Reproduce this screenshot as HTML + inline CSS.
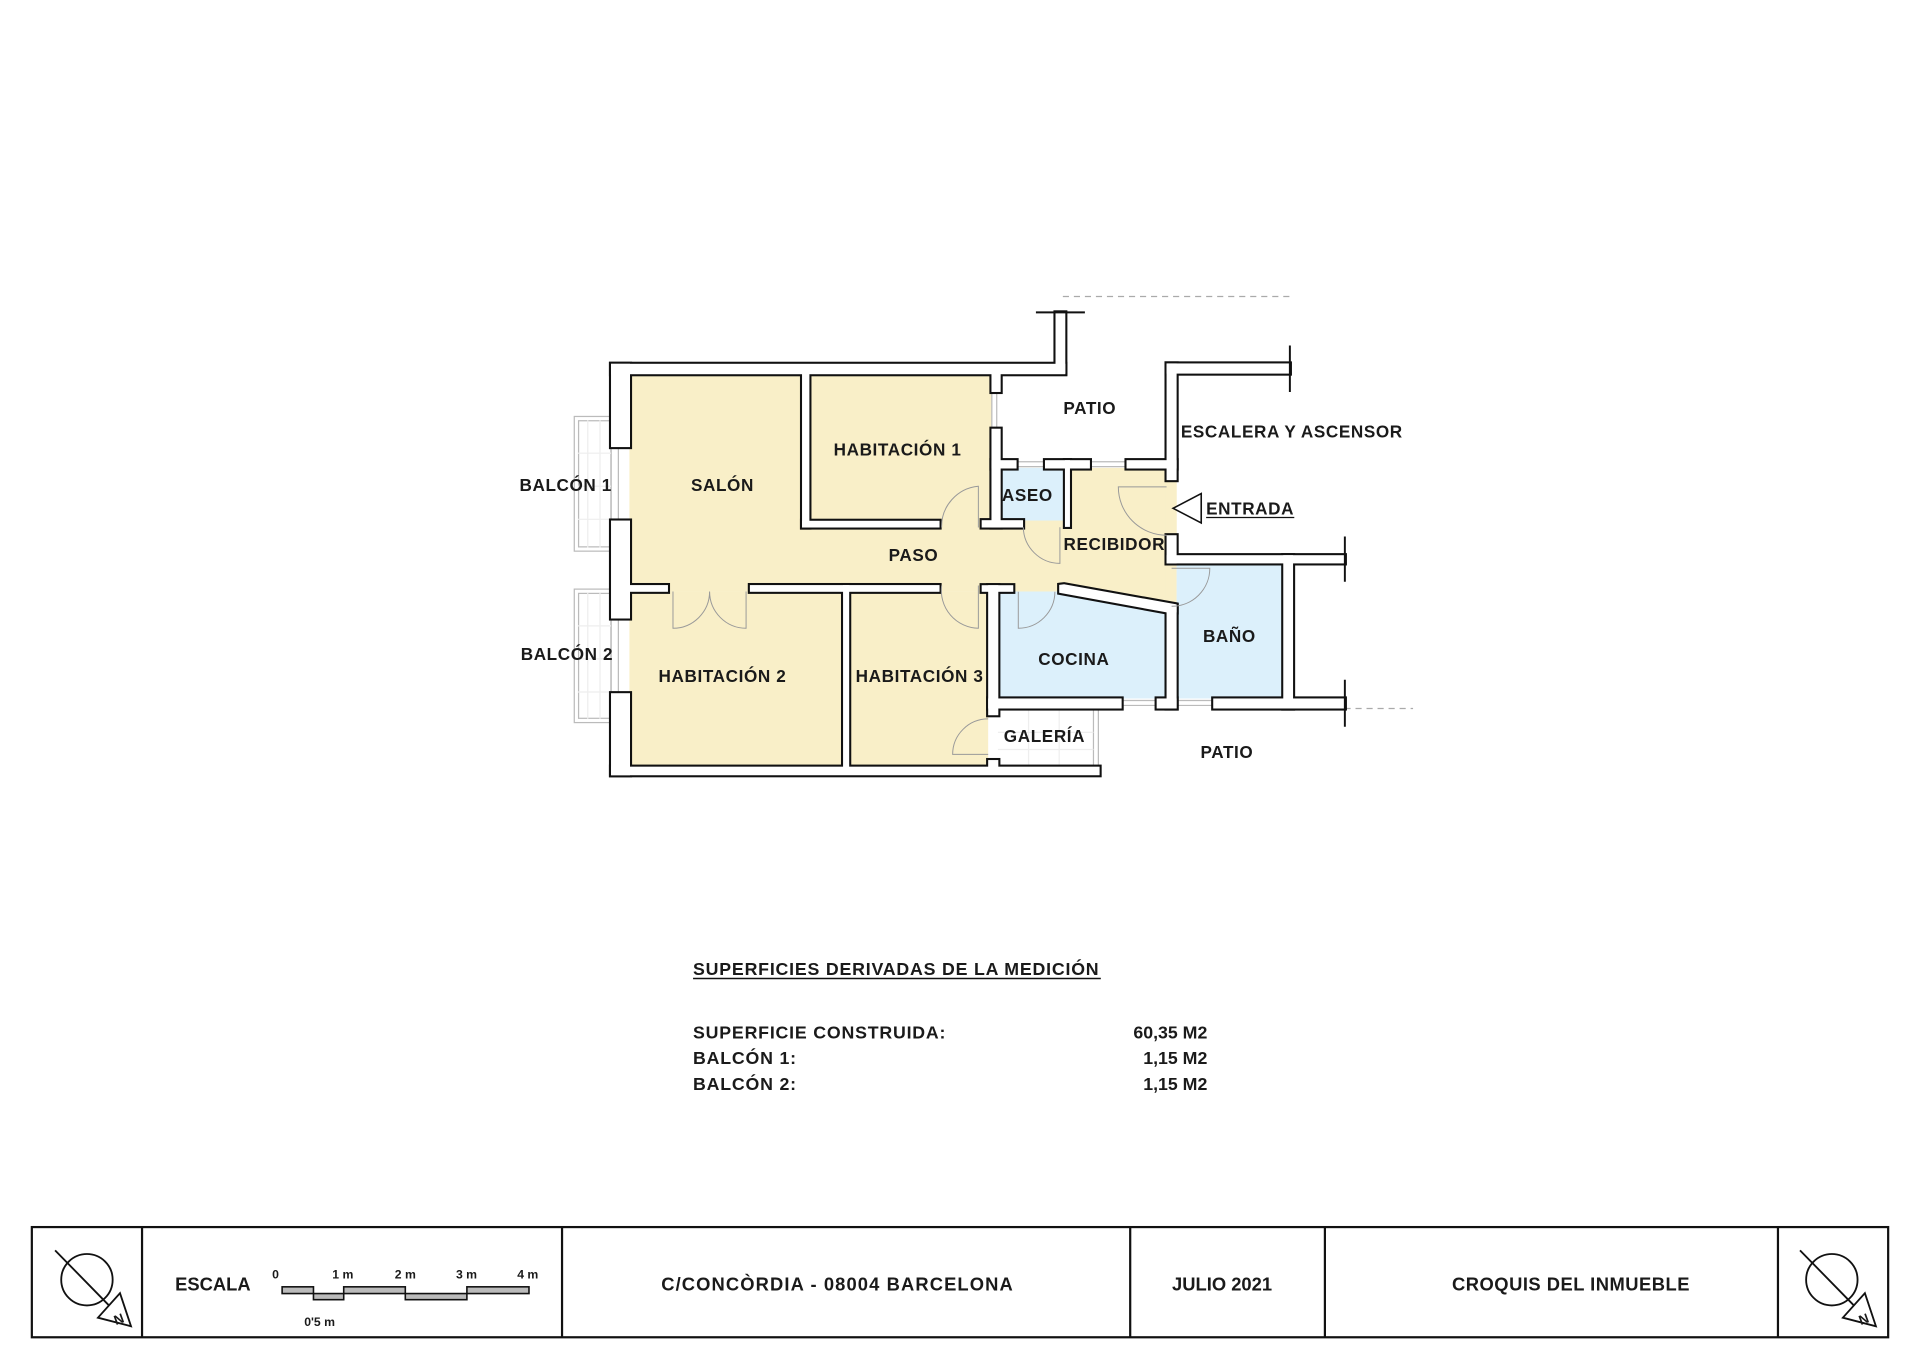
<!DOCTYPE html>
<html><head><meta charset="utf-8"><style>
html,body{margin:0;padding:0;background:#fff;}
svg{display:block;}
text{font-family:"Liberation Sans",sans-serif;font-weight:bold;fill:#1a1a1a;}
</style></head><body>
<svg width="1920" height="1357" viewBox="0 0 1568 1108" xmlns="http://www.w3.org/2000/svg">
<defs>
<g id="walls">
<rect x="499" y="297" width="371" height="8.5"/>
<rect x="862" y="255" width="8" height="50"/>
<rect x="499" y="297" width="15.5" height="68"/>
<rect x="499" y="425" width="15.5" height="80"/>
<rect x="499" y="566" width="15.5" height="67"/>
<rect x="499" y="626" width="399" height="7"/>
<rect x="688.5" y="477.7" width="5" height="150"/>
<rect x="510" y="477.7" width="35.5" height="5.5"/>
<rect x="612.4" y="477.7" width="154.9" height="5.5"/>
<rect x="655" y="305" width="6" height="125.7"/>
<rect x="655" y="425.2" width="112.3" height="5.5"/>
<rect x="809.7" y="300" width="7.5" height="20"/>
<rect x="809.7" y="350" width="7.5" height="80.7"/>
<rect x="801.7" y="424.7" width="33.8" height="6"/>
<rect x="809.7" y="375.7" width="20.5" height="6.8"/>
<rect x="853.4" y="375.7" width="36.7" height="6.8"/>
<rect x="869.7" y="375.7" width="4.1" height="54.5"/>
<rect x="920" y="375.7" width="40.9" height="6.8"/>
<rect x="952.7" y="296.7" width="8.2" height="95.3"/>
<rect x="952.7" y="296.7" width="100.7" height="8.3"/>
<rect x="952.7" y="437" width="8.2" height="23"/>
<rect x="952.7" y="453.3" width="145.6" height="6.7"/>
<rect x="1048" y="453.3" width="8" height="125.2"/>
<rect x="1048" y="570.3" width="50.3" height="8.2"/>
<rect x="801.7" y="477.8" width="25.8" height="5.4"/>
<rect x="807" y="477.8" width="8.3" height="106.2"/>
<rect x="807" y="570.3" width="109" height="8.2"/>
<rect x="944.6" y="570.3" width="16.3" height="8.2"/>
<rect x="990.8" y="570.3" width="65.2" height="8.2"/>
<rect x="952.7" y="494" width="8.2" height="84.5"/>
<polygon points="865,477.5 869,477 960.9,493.5 960.9,500 952.7,500 865,484"/>
<rect x="807" y="620.6" width="8.3" height="8"/>
</g>
</defs>
<rect width="1568" height="1108" fill="#fff"/>
<path d="M868 242 H1053 M1098 578.5 H1154" stroke="#aaa" stroke-width="1" stroke-dasharray="5,4" fill="none"/>
<g fill="#f9efc8">
<rect x="514" y="305" width="141" height="178"/>
<rect x="661" y="305" width="149" height="121"/>
<rect x="514" y="425" width="439" height="58"/>
<rect x="830" y="382" width="123" height="116"/>
<rect x="952" y="392" width="9" height="105"/>
<rect x="514" y="483" width="175" height="143"/>
<rect x="693" y="483" width="114" height="143"/>
</g>
<g fill="#dcf0fb">
<rect x="815" y="382" width="55" height="43"/>
<polygon points="815,483 866,483 952.7,499 952.7,570.3 815,570.3"/>
<rect x="960.9" y="460" width="87.1" height="110.3"/>
</g>
<g fill="none" stroke="#bbb" stroke-width="1">
<rect x="469" y="340" width="30" height="110"/>
<rect x="472.5" y="343.5" width="26.5" height="103"/>
<rect x="469" y="481" width="30" height="109"/>
<rect x="472.5" y="484.5" width="26.5" height="102"/>
<path d="M893 578.5 V626 M897 578.5 V633"/>
<path d="M499 365 V425 M505 365 V425 M499 505 V566 M505 505 V566"/>
<path d="M810 320 V350 M814 320 V350"/>
<path d="M830 377 H853 M830 381 H853 M890 377 H920 M890 381 H920"/>
<path d="M916 572 H944.6 M916 576 H944.6 M960.9 572 H990.8 M960.9 576 H990.8"/>
</g>
<g stroke="#eee" stroke-width="1" fill="none">
<path d="M480 343 V447 M490 343 V447 M472 370 H499 M472 397 H499 M472 424 H499"/>
<path d="M480 484 V587 M490 484 V587 M472 511 H499 M472 538 H499 M472 565 H499"/>
<path d="M815 598 H893 M815 612 H893 M840 578 V626 M865 578 V626"/>
</g>
<use href="#walls" fill="#111" stroke="#111" stroke-width="3.4"/>
<use href="#walls" fill="#fff"/>
<g stroke="#111" stroke-width="1.6">
<path d="M846 255 H886 M1053.4 282 V320 M1098.3 438 V475 M1098.3 555 V593.4"/>
</g>
<g fill="none" stroke="#999" stroke-width="0.8">
<path d="M799 430.7 V397 A33 33 0 0 0 769 430.7"/>
<path d="M799 478 V513 A31 31 0 0 1 769 478"/>
<path d="M549.6 483 V513 A30 30 0 0 0 579.5 483 M609.3 483 V513 A30 30 0 0 1 579.5 483"/>
<path d="M865.6 430.5 V460 A30 30 0 0 1 835.7 430.5"/>
<path d="M831.6 483.2 V513 A30 30 0 0 0 861.5 483.2"/>
<path d="M952.7 397.5 H913.3 A39.5 39.5 0 0 0 952.7 437"/>
<path d="M956.8 464 H988 A31 31 0 0 1 956.8 495"/>
<path d="M807 616 H778 A29 29 0 0 1 807 587"/>
</g>
<polygon points="958,415 981,403 981,427" fill="#fff" stroke="#111" stroke-width="1.3"/>
<g font-size="14" text-anchor="middle" letter-spacing="0.5">
<text x="890" y="338">PATIO</text>
<text x="1055" y="357">ESCALERA Y ASCENSOR</text>
<text x="462" y="401">BALCÓN 1</text>
<text x="590" y="401">SALÓN</text>
<text x="733" y="372">HABITACIÓN 1</text>
<text x="839" y="409">ASEO</text>
<text x="746" y="458">PASO</text>
<text x="910" y="449">RECIBIDOR</text>
<text x="463" y="539">BALCÓN 2</text>
<text x="590" y="557">HABITACIÓN 2</text>
<text x="751" y="557">HABITACIÓN 3</text>
<text x="877" y="543">COCINA</text>
<text x="1004" y="524">BAÑO</text>
<text x="853" y="606">GALERÍA</text>
<text x="1002" y="619">PATIO</text>
<text x="985" y="420" text-anchor="start">ENTRADA</text>
</g>
<line x1="985" y1="422.5" x2="1057" y2="422.5" stroke="#111" stroke-width="1"/>
<g font-size="14.5" letter-spacing="0.65">
<text x="566" y="796">SUPERFICIES DERIVADAS DE LA MEDICIÓN</text>
<text x="566" y="848">SUPERFICIE CONSTRUIDA:</text>
<text x="566" y="869">BALCÓN 1:</text>
<text x="566" y="890">BALCÓN 2:</text>
</g>
<g font-size="14.5" text-anchor="end">
<text x="986" y="848">60,35 M2</text>
<text x="986" y="869">1,15 M2</text>
<text x="986" y="890">1,15 M2</text>
</g>
<line x1="566" y1="799" x2="899" y2="799" stroke="#111" stroke-width="1.3"/>
<g fill="none" stroke="#111" stroke-width="1.8">
<rect x="26" y="1002" width="1516" height="90"/>
<path d="M116 1002 V1092 M459 1002 V1092 M923 1002 V1092 M1082 1002 V1092 M1452 1002 V1092"/>
</g>
<g fill="none" stroke="#111" stroke-width="1.5">
<circle cx="71" cy="1045" r="21"/>
<line x1="45" y1="1021" x2="89" y2="1066"/>
<polygon points="80,1076 98,1056 107,1083" fill="#fff"/>
<circle cx="1496" cy="1045" r="21"/>
<line x1="1470" y1="1021" x2="1514" y2="1066"/>
<polygon points="1505,1076 1523,1056 1532,1083" fill="#fff"/>
</g>
<text x="97" y="1081" font-size="11" text-anchor="middle" transform="rotate(-20 97 1077)">N</text>
<text x="1522" y="1081" font-size="11" text-anchor="middle" transform="rotate(-20 1522 1077)">N</text>
<g fill="#bbb" stroke="#111" stroke-width="1.3">
<rect x="230.4" y="1050.8" width="25.6" height="5.5"/>
<rect x="256" y="1056.3" width="24.7" height="5"/>
<rect x="280.7" y="1050.8" width="50.3" height="5.5"/>
<rect x="331" y="1056.3" width="50.3" height="5"/>
<rect x="381.3" y="1050.8" width="50.7" height="5.5"/>
</g>
<g font-size="10" font-weight="normal" text-anchor="middle">
<text x="225" y="1044">0</text>
<text x="280" y="1044">1 m</text>
<text x="331" y="1044">2 m</text>
<text x="381" y="1044">3 m</text>
<text x="431" y="1044">4 m</text>
<text x="261" y="1083">0'5 m</text>
</g>
<g font-size="15">
<text x="143" y="1054">ESCALA</text>
<text x="684" y="1054" text-anchor="middle" letter-spacing="0.9">C/CONCÒRDIA - 08004 BARCELONA</text>
<text x="998" y="1054" text-anchor="middle">JULIO 2021</text>
<text x="1283" y="1054" text-anchor="middle" letter-spacing="0.4">CROQUIS DEL INMUEBLE</text>
</g>
</svg>
</body></html>
